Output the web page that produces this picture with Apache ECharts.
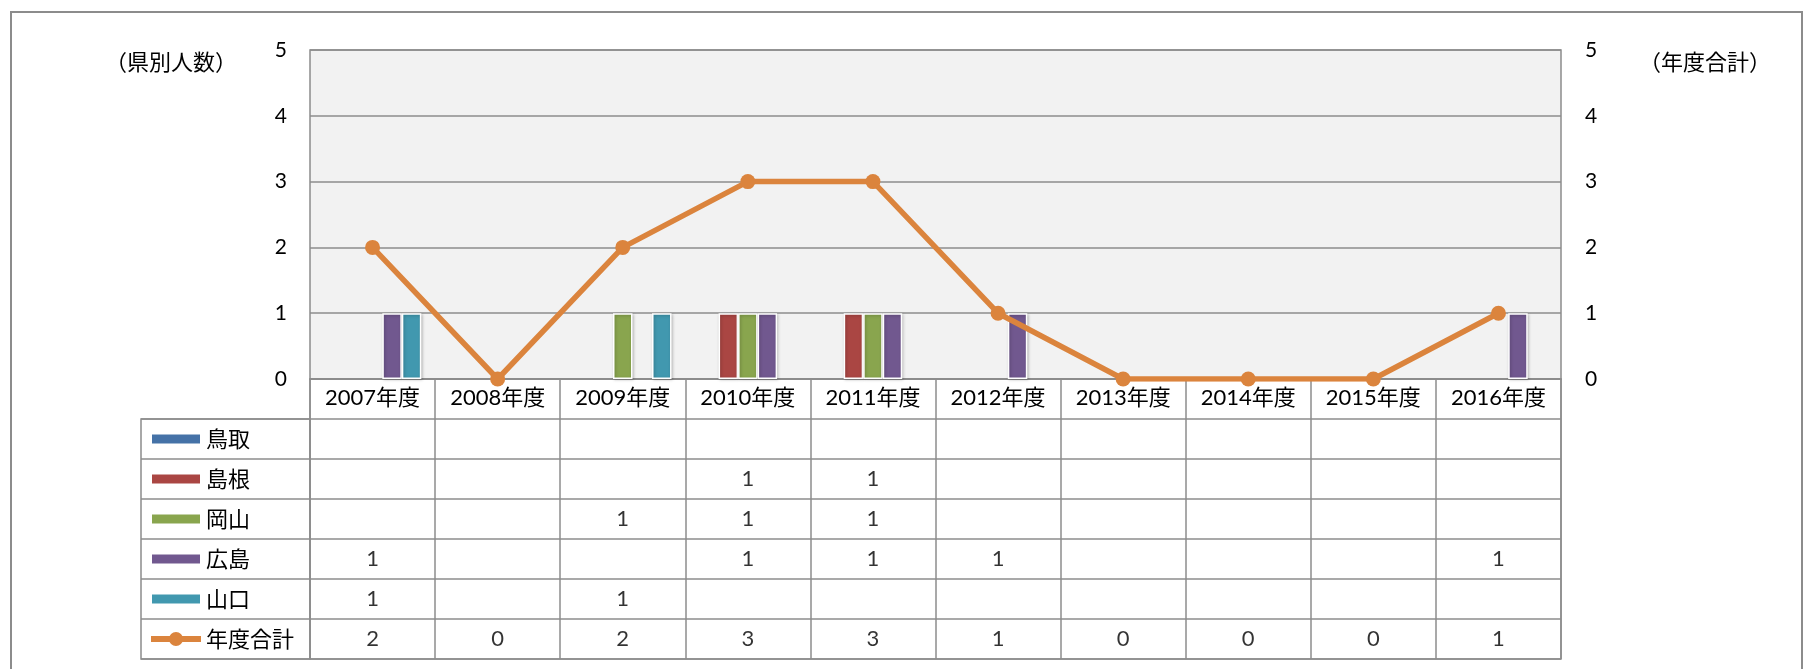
<!DOCTYPE html>
<html><head><meta charset="utf-8">
<script src="https://cdn.jsdelivr.net/npm/echarts@6/dist/echarts.min.js"></script>
<style>html,body{margin:0;padding:0;background:#fff}#c{width:1813px;height:669px}</style>
</head><body><div id="c"></div>
<script>
const categories = ['2007年度','2008年度','2009年度','2010年度','2011年度','2012年度','2013年度','2014年度','2015年度','2016年度'];
const tottori   = [null,null,null,null,null,null,null,null,null,null];
const shimane   = [null,null,null,1,1,null,null,null,null,null];
const okayama   = [null,null,1,1,1,null,null,null,null,null];
const hiroshima = [1,null,null,1,1,1,null,null,null,1];
const yamaguchi = [1,null,1,null,null,null,null,null,null,null];
const total     = [2,0,2,3,3,1,0,0,0,1];
const seriesNames = ['鳥取','島根','岡山','広島','山口','年度合計'];
const seriesColors = ['#4572A7','#AA4643','#89A54E','#71588F','#4198AF','#DB843D'];
const leftTicks = [0,1,2,3,4,5];

const barData = [tottori, shimane, okayama, hiroshima, yamaguchi];
const GRID = '#8C8C8C';
const LAT = 'Lato, "Noto Sans CJK JP", sans-serif';
const CJK = '"Noto Sans CJK JP", sans-serif';

const tableRows = ['', ...seriesNames];
const tableData = [];
[...barData, total].forEach((arr, r) => {
  arr.forEach((v, i) => { if (v !== null) tableData.push([i, seriesNames[r], v]); });
});

const BAR_ICON = 'path://M0,0H50V11H0Z';
const LINE_ICON = 'path://M0,4H19V10H0Z M31,4H50V10H31Z M32,7A7,7,0,1,1,18,7A7,7,0,1,1,32,7Z';

const series = barData.map((d, k) => ({
  name: seriesNames[k], type: 'bar', xAxisIndex: 0, yAxisIndex: 0, data: d,
  barGap: '0%', barCategoryGap: '22%',
  itemStyle: { color: seriesColors[k], borderColor: '#fff', borderWidth: 1.5,
    shadowBlur: 3, shadowColor: 'rgba(0,0,0,0.25)', shadowOffsetX: 1, shadowOffsetY: 1 }
}));
series.push({
  name: '年度合計', type: 'line', xAxisIndex: 0, yAxisIndex: 1, data: total,
  symbol: 'circle', symbolSize: 15,
  lineStyle: { color: seriesColors[5], width: 5.5 },
  itemStyle: { color: seriesColors[5] }, z: 5
});
series.push({
  name: 'table', type: 'scatter', xAxisIndex: 1, yAxisIndex: 2, data: tableData,
  symbolSize: 1, itemStyle: { color: 'rgba(0,0,0,0)' },
  label: { show: true, position: 'inside', formatter: p => String(p.value[2]),
    fontSize: 22, color: '#000', fontFamily: LAT }
});
series.push({ name: 'legendcol', type: 'scatter', xAxisIndex: 2, yAxisIndex: 3, data: [] });

const chart = echarts.init(document.getElementById('c'), null, { renderer: 'canvas' });
chart.setOption({
  animation: false,
  title: [
    { text: '（県別人数）', left: 171, top: 51, textAlign: 'center', padding: 0,
      textStyle: { fontSize: 22, lineHeight: 22, fontWeight: 'normal', color: '#000', fontFamily: CJK } },
    { text: '（年度合計）', left: 1705, top: 51, textAlign: 'center', padding: 0,
      textStyle: { fontSize: 22, lineHeight: 22, fontWeight: 'normal', color: '#000', fontFamily: CJK } }
  ],
  legend: {
    orient: 'vertical', left: 150, top: 428, padding: 0,
    itemWidth: 50, itemHeight: 14, itemGap: 18, symbolKeepAspect: true,
    data: seriesNames.map((n, k) => ({ name: n, icon: k < 5 ? BAR_ICON : LINE_ICON })),
    textStyle: { fontSize: 22, lineHeight: 22, color: '#000', fontFamily: CJK },
    selectedMode: false
  },
  graphic: [{ type: 'rect', shape: { x: 11, y: 12, width: 1791, height: 700 },
    style: { fill: 'none', stroke: '#8C8C8C', lineWidth: 2 }, silent: true, z: -10 }],
  grid: [
    { left: 310, top: 50, width: 1251, height: 329, show: true, backgroundColor: '#F2F2F2',
      borderColor: GRID, borderWidth: 1.5 },
    { left: 310, top: 379, width: 1251, height: 280, show: true, borderColor: GRID, borderWidth: 1.5 },
    { left: 141, top: 419, width: 169, height: 240, show: true, borderColor: GRID, borderWidth: 1.5 }
  ],
  xAxis: [
    { type: 'category', gridIndex: 0, data: categories,
      axisLine: { show: true, lineStyle: { color: GRID, width: 1.5 } }, axisTick: { show: false },
      axisLabel: { margin: 8, fontSize: 22, color: '#000', fontFamily: LAT } },
    { type: 'category', gridIndex: 1, data: categories,
      axisLine: { show: false }, axisTick: { show: false }, axisLabel: { show: false },
      splitLine: { show: true, lineStyle: { color: GRID, width: 1.5 } } },
    { type: 'value', gridIndex: 2, show: false }
  ],
  yAxis: [
    { type: 'value', gridIndex: 0, min: leftTicks[0], max: leftTicks[leftTicks.length-1], interval: 1,
      axisLine: { show: false }, axisTick: { show: false },
      axisLabel: { margin: 23, fontSize: 21, color: '#000', fontFamily: LAT },
      splitLine: { show: true, lineStyle: { color: GRID, width: 1.5 } } },
    { type: 'value', gridIndex: 0, position: 'right', min: 0, max: 5, interval: 1,
      axisLine: { show: false }, axisTick: { show: false },
      axisLabel: { margin: 24, fontSize: 21, color: '#000', fontFamily: LAT },
      splitLine: { show: false } },
    { type: 'category', gridIndex: 1, data: tableRows, inverse: true,
      axisLine: { show: false }, axisTick: { show: false }, axisLabel: { show: false },
      splitLine: { show: true, lineStyle: { color: GRID, width: 1.5 } } },
    { type: 'category', gridIndex: 2, data: seriesNames, inverse: true,
      axisLine: { show: false }, axisTick: { show: false }, axisLabel: { show: false },
      splitLine: { show: true, lineStyle: { color: GRID, width: 1.5 } } }
  ],
  series: series
});
</script></body></html>
